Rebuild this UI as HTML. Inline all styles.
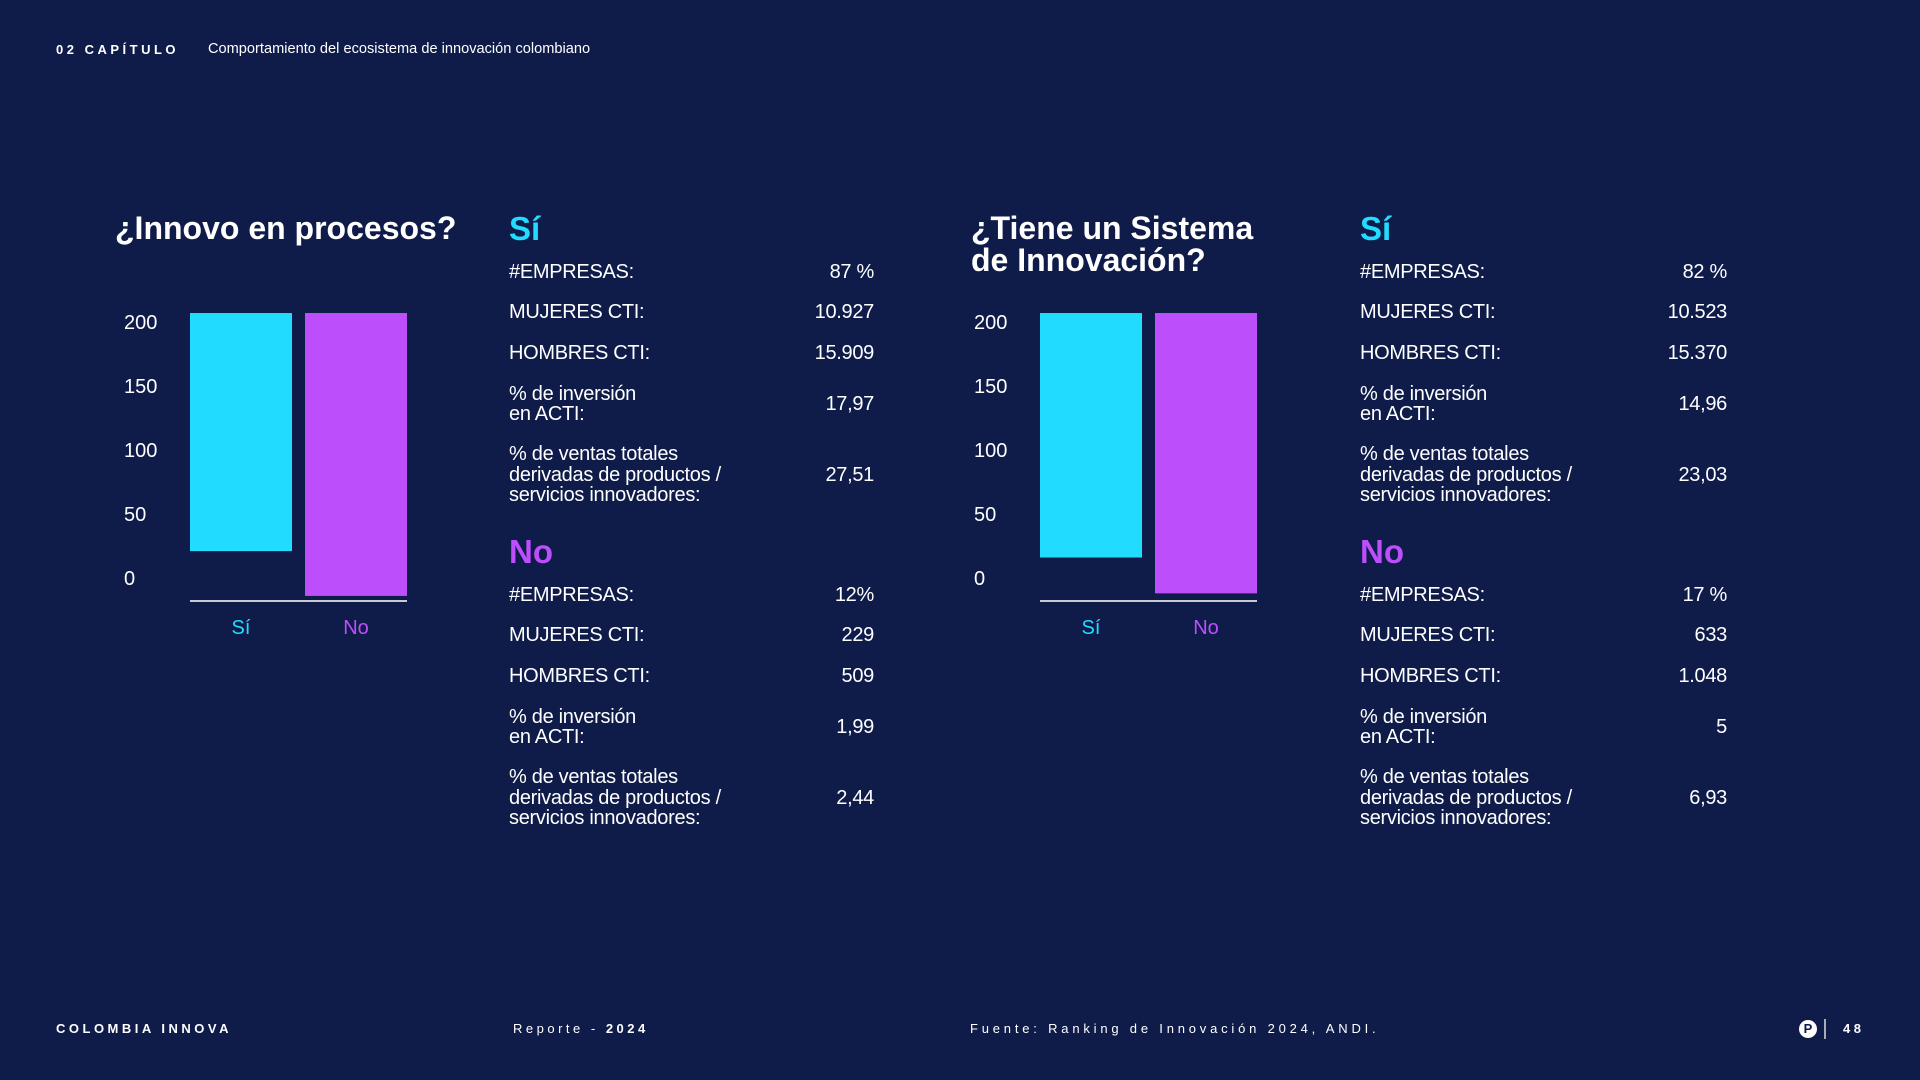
<!DOCTYPE html>
<html><head><meta charset="utf-8">
<style>
html,body{margin:0;padding:0}
body{width:1920px;height:1080px;background:#0f1c4a;position:relative;overflow:hidden;font-family:"Liberation Sans",sans-serif;color:#fff}
.a{position:absolute;white-space:nowrap}
.hd{font-weight:bold;font-size:13px;letter-spacing:3.5px}
.title{font-weight:bold;font-size:32px;line-height:32px;letter-spacing:0}
.sec{font-weight:bold;font-size:33px}
.lab{font-size:20px;line-height:20.5px;letter-spacing:-0.3px}
.val{font-size:20px;text-align:right;letter-spacing:-0.3px}
.ft{font-size:13px;letter-spacing:3.5px}
</style></head><body>
<div class="a hd" style="left:56px;top:42px">02 CAPÍTULO</div>
<div class="a" style="left:208px;top:41px;font-size:14.6px">Comportamiento del ecosistema de innovación colombiano</div>

<div class="a title" style="left:115px;top:212px">¿Innovo en procesos?</div>
<div class="a title" style="left:971px;top:212px">¿Tiene un Sistema<br>de Innovación?</div>

<svg class="a" style="left:0;top:0" width="1920" height="1080" id="charts"></svg>

<div id="tables"></div>

<div class="a hd" style="left:56px;top:1021px">COLOMBIA INNOVA</div>
<div class="a ft" style="left:513px;top:1021px">Reporte - <b>2024</b></div>
<div class="a ft" style="left:970px;top:1021px;letter-spacing:3.8px">Fuente: Ranking de Innovación 2024, ANDI.</div>
<div class="a" style="left:1799px;top:1020px;width:18px;height:18px;border-radius:50%;background:#fff;color:#0f1c4a;font-weight:bold;font-size:13px;text-align:center;line-height:18px">P</div>
<div class="a" style="left:1824px;top:1019px;width:2px;height:20px;background:#aab"></div>
<div class="a hd" style="left:1843px;top:1021px">48</div>

<script>
const categories = ["Sí","No"];
const chart1Low = [21, -14];
const chart1High = [207, 207];
const chart2Low = [16, -12];
const chart2High = [207, 207];
const yTicks = [0, 50, 100, 150, 200];
const colors = ["#22dcff","#bd4efc"];

const NS = "http://www.w3.org/2000/svg";
const svg = document.getElementById('charts');
function mk(tag, attrs){const e=document.createElementNS(NS,tag);for(const k in attrs)e.setAttribute(k,attrs[k]);svg.appendChild(e);return e;}
function yScale(v){return 578 - v*64/50;}
function drawChart(ox, low, high, name){
  const tickX = ox + 9;
  yTicks.forEach(t=>{
    const tx = mk('text',{x:tickX,y:yScale(t)+7,fill:'#fff','font-size':20,'font-family':'Liberation Sans'});
    tx.textContent = t;
    
    
  });
  const barX = i => ox + 75 + i*115;
  categories.forEach((c,i)=>{
    const r = mk('rect',{x:barX(i),y:yScale(high[i]),width:102,height:yScale(low[i])-yScale(high[i]),fill:colors[i]});
    
    
    const l = mk('text',{x:barX(i)+51,y:634,fill:colors[i],'font-size':20,'text-anchor':'middle','font-family':'Liberation Sans'});
    l.textContent = c;
    
    
  });
  const ln = mk('line',{x1:ox+75,x2:ox+292,y1:601,y2:601,stroke:'#c8cbd6','stroke-width':2});
  
  
}
drawChart(115, chart1Low, chart1High, 'chart1');
drawChart(965, chart2Low, chart2High, 'chart2');

const rowLabels = ["#EMPRESAS:","MUJERES CTI:","HOMBRES CTI:","% de inversión<br>en ACTI:","% de ventas totales<br>derivadas de productos /<br>servicios innovadores:"];
const t1Si = ["87 %","10.927","15.909","17,97","27,51"];
const t1No = ["12%","229","509","1,99","2,44"];
const t2Si = ["82 %","10.523","15.370","14,96","23,03"];
const t2No = ["17 %","633","1.048","5","6,93"];
const rowCenters = [272,312,353,404,475];
const noOffset = 323;
const host = document.getElementById('tables');
function table(x, right, si, no, name){
  [[si,0,'Sí',colors[0]],[no,noOffset,'No',colors[1]]].forEach(([vals,off,h,col])=>{
    const hd=document.createElement('div');hd.className='a sec';hd.style.left=x+'px';hd.style.top=(210+off)+'px';hd.style.color=col;hd.textContent=h;
    
    
    host.appendChild(hd);
    vals.forEach((v,i)=>{
      const lines = rowLabels[i].split('<br>').length;
      const L=document.createElement('div');L.className='a lab';L.style.left=x+'px';
      L.style.top=(rowCenters[i]+off - lines*20.5/2)+'px';L.innerHTML=rowLabels[i];
      
      
      host.appendChild(L);
      const V=document.createElement('div');V.className='a val';V.style.left=(right-150)+'px';V.style.width='150px';
      V.style.top=(rowCenters[i]+off-11)+'px';V.textContent=v;
      
      
      host.appendChild(V);
    });
  });
}
table(509, 874, t1Si, t1No, 'table1');
table(1360, 1727, t2Si, t2No, 'table2');
</script>
</body></html>
